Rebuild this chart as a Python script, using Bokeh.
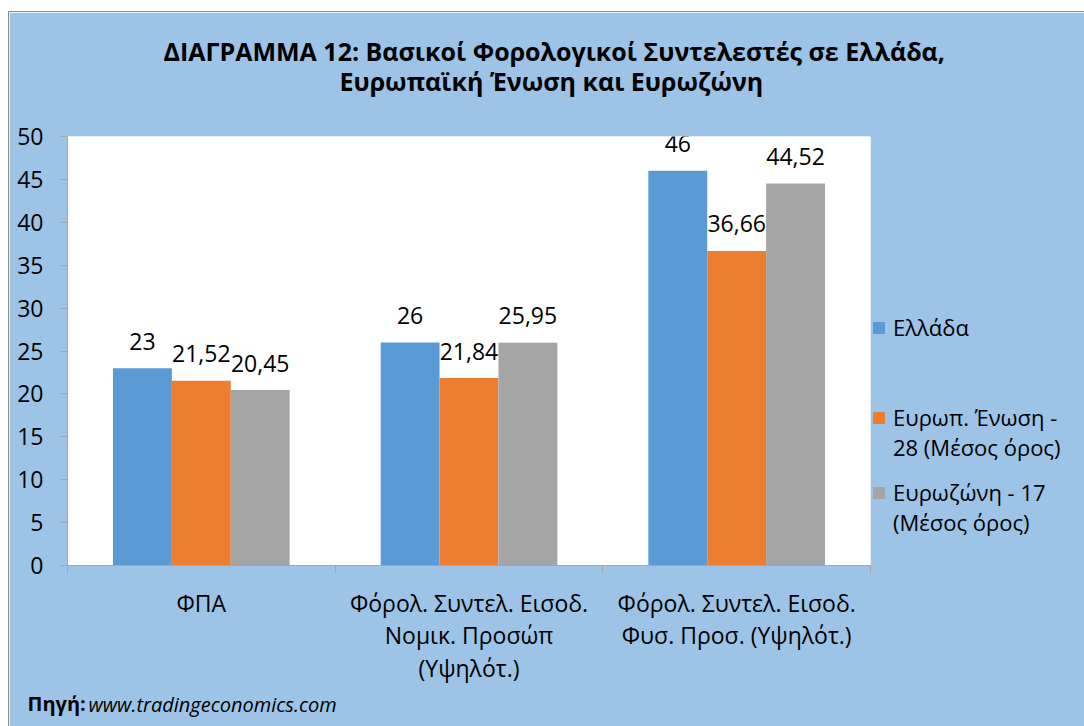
from bokeh.plotting import figure
from bokeh.models import (Range1d, FixedTicker, Legend, LegendItem,
                          ColumnDataSource, LabelSet, Title)
from bokeh.embed import file_html
from bokeh.resources import INLINE
from bokeh.core.properties import value

# ---- data ----
categories = ["ΦΠΑ",
              "Φόρολ. Συντελ. Εισοδ.\nΝομικ. Προσώπ\n(Υψηλότ.)",
              "Φόρολ. Συντελ. Εισοδ.\nΦυσ. Προσ. (Υψηλότ.)"]
series_names = ["Ελλάδα", "Ευρωπ. Ένωση -\n28 (Μέσος όρος)", "Ευρωζώνη - 17\n(Μέσος όρος)"]
greece = [23, 26, 46]
eu28 = [21.52, 21.84, 36.66]
eurozone = [20.45, 25.95, 44.52]
y_ticks = [0, 5, 10, 15, 20, 25, 30, 35, 40, 45, 50]
title_line1 = "ΔΙΑΓΡΑΜΜΑ 12:  Βασικοί Φορολογικοί Συντελεστές σε Ελλάδα,"
title_line2 = "Ευρωπαϊκή Ένωση και Ευρωζώνη"
source_bold = "Πηγή:"
source_text = "www.tradingeconomics.com"

colors = ["#5B9BD5", "#ED7D31", "#A5A5A5"]
FONT = "Open Sans"
BG = "#9DC3E6"
AXIS_C = "#A6A6A6"
LEGEND_GAP_ROWS = [0, 4, 1]   # blank legend rows before each entry (layout only)

n = len(categories)
p = figure(width=1075, height=714, frame_width=803, frame_height=429,
           x_range=Range1d(-0.5, n - 0.5), y_range=Range1d(0, 50),
           output_backend="svg", toolbar_location=None,
           min_border_left=58, min_border_top=124,
           min_border_right=214, min_border_bottom=161,
           background_fill_color="white", border_fill_color=BG,
           outline_line_color=None)
p.styles = {"margin-left": "8px", "margin-top": "11px",
            "border-left": "1px solid #8c8c8c", "border-top": "1px solid #8c8c8c"}
p.xgrid.visible = False
p.ygrid.visible = False

# invisible renderer for legend rows without a colour square
dummy = p.vbar(x=[], top=[], width=0.1, fill_alpha=0, line_alpha=0)

# ---- bars ----
series = [greece, eu28, eurozone]
bw = 0.22
offsets = [-bw, 0.0, bw]
items = []
for k, (vals, name, col, off) in enumerate(zip(series, series_names, colors, offsets)):
    xs = [i + off for i in range(n)]
    src = ColumnDataSource(dict(x=xs, top=vals,
                                lab=[f"{v:g}".replace(".", ",") for v in vals]))
    r = p.vbar(x="x", top="top", width=bw, bottom=0, source=src,
               fill_color=col, line_color=None)
    # legend: one row per text line; blank rows keep the gaps between entries
    for _ in range(LEGEND_GAP_ROWS[k]):
        items.append(LegendItem(label=" ", renderers=[dummy]))
    lines = name.split("\n")
    items.append(LegendItem(label=lines[0], renderers=[r]))
    for extra in lines[1:]:
        items.append(LegendItem(label=extra, renderers=[dummy]))
    ls = LabelSet(x="x", y="top", text="lab", source=src, text_align="center",
                  text_baseline="middle", y_offset=27, text_font=value(FONT),
                  text_font_size=value("23px"), text_color="black")
    p.add_layout(ls)

# ---- axes ----
xa = p.xaxis[0]
xa.ticker = FixedTicker(ticks=list(range(n)),
                        minor_ticks=[i - 0.5 for i in range(n + 1)])
xa.major_label_overrides = {i: c for i, c in enumerate(categories)}
xa.major_tick_out = 0
xa.major_tick_in = 0
xa.minor_tick_out = 8
xa.minor_tick_in = 0
xa.minor_tick_line_color = AXIS_C
xa.axis_line_color = AXIS_C
xa.major_label_standoff = 13
xa.major_label_text_font = FONT
xa.major_label_text_font_size = "23px"
xa.major_label_text_color = "black"
xa.major_label_text_line_height = 1.02

ya = p.yaxis[0]
ya.ticker = FixedTicker(ticks=y_ticks)
ya.major_tick_out = 7
ya.major_tick_in = 0
ya.minor_tick_out = 0
ya.minor_tick_in = 0
ya.major_tick_line_color = AXIS_C
ya.axis_line_color = AXIS_C
ya.major_label_standoff = 17
ya.major_label_text_font = FONT
ya.major_label_text_font_size = "23px"
ya.major_label_text_color = "black"

# ---- legend ----
legend = Legend(items=items, location=(1, 28), orientation="vertical",
                glyph_width=15, glyph_height=15, label_standoff=7,
                label_text_font=FONT, label_text_font_size="22px",
                label_text_color="black",
                spacing=0, padding=0, margin=0,
                background_fill_alpha=0, border_line_color=None)
p.add_layout(legend, "right")

# ---- title: spacer nearest the plot, then line 2, then line 1 ----
p.add_layout(Title(text=" ", text_font_size="1px", standoff=36), "above")
p.add_layout(Title(text=title_line2, align="left", offset=272, standoff=0,
                   text_font=FONT, text_font_size="25px", text_font_style="bold",
                   text_color="black"), "above")
t1 = Title(text=title_line1, align="left", offset=96, standoff=0,
           text_font=FONT, text_font_size="25px", text_font_style="bold",
           text_color="black")
try:
    t1.standoff = -12
except Exception:
    t1.standoff = 0
p.add_layout(t1, "above")

# ---- source note: two zero-height title rows sharing one line ----
p.add_layout(Title(text=" ", text_font_size="1px", standoff=13), "below")
t_it = Title(text=source_text, align="left", offset=21, vertical_align="bottom",
             text_font=FONT, text_font_size="20px", text_font_style="italic",
             text_color="black")
t_bd = Title(text=source_bold, align="left", offset=-40, vertical_align="top",
             text_font=FONT, text_font_size="20px", text_font_style="bold",
             text_color="black")
for t in (t_it, t_bd):
    try:
        t.standoff = -28
    except Exception:
        t.standoff = 0
p.add_layout(t_it, "below")
p.add_layout(t_bd, "below")

open("out.html", "w").write(file_html(p, INLINE))
